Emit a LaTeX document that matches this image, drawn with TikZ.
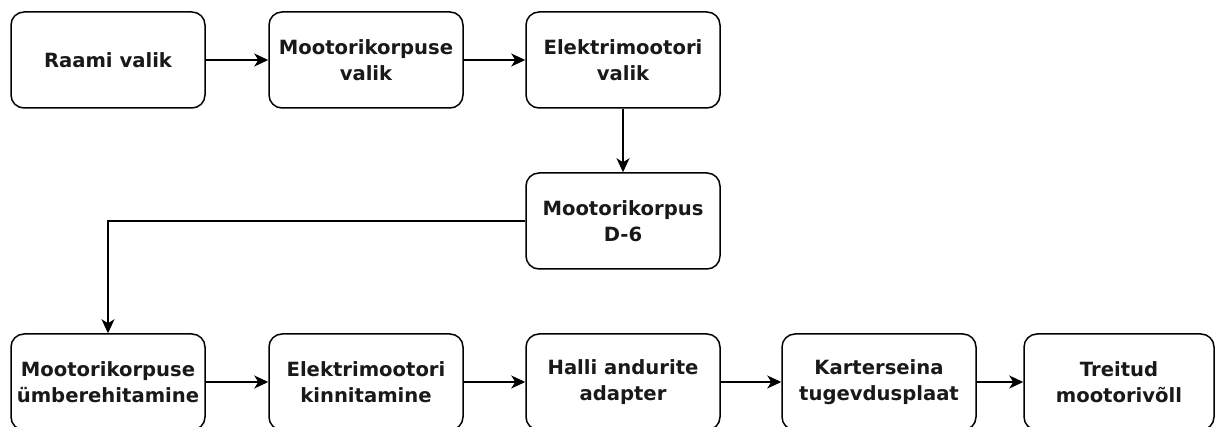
\documentclass[tikz,border=0pt]{standalone}
\usepackage{fontspec}
\setmainfont{DejaVu Sans}
\usetikzlibrary{arrows.meta}
\tikzset{
  stepbox/.style={draw=black, line width=1.5pt, rounded corners=13pt, rectangle,
    minimum width=194pt, minimum height=96pt, inner sep=0pt, align=center,
    font=\fontsize{19.6}{26}\selectfont\bfseries, text=black!90},
  flow/.style={draw=black, line width=1.5pt, -{Stealth[length=14pt,width=13pt,inset=4pt]}}
}
\begin{document}
\begin{tikzpicture}[x=1pt,y=-1pt]
\useasboundingbox (0,0) rectangle (1215,427);
\clip (0,0) rectangle (1215,427);
\fill[white] (0,0) rectangle (1215,427);
\node[stepbox] (raam) at (108,60) {Raami valik};
\node[stepbox] (korp) at (366,60) {Mootorikorpuse\\valik};
\node[stepbox] (elek) at (623,60) {Elektrimootori\\valik};
\node[stepbox] (d6) at (623,221) {Mootorikorpus\\D-6};
\node[stepbox] (umb) at (108,382) {Mootorikorpuse\\ümberehitamine};
\node[stepbox] (kinn) at (366,382) {Elektrimootori\\kinnitamine};
\node[stepbox] (hall) at (623,382) {Halli andurite\\adapter};
\node[stepbox] (kart) at (879,382) {Karterseina\\tugevdusplaat};
\node[stepbox, minimum width=190pt] (treit) at (1119,382) {Treitud\\mootorivõll};
\draw[flow] (raam) -- (korp);
\draw[flow] (korp) -- (elek);
\draw[flow] (elek) -- (d6);
\draw[flow] (d6.west) -| (umb.north);
\draw[flow] (umb) -- (kinn);
\draw[flow] (kinn) -- (hall);
\draw[flow] (hall) -- (kart);
\draw[flow] (kart) -- (treit);
\end{tikzpicture}
\end{document}
